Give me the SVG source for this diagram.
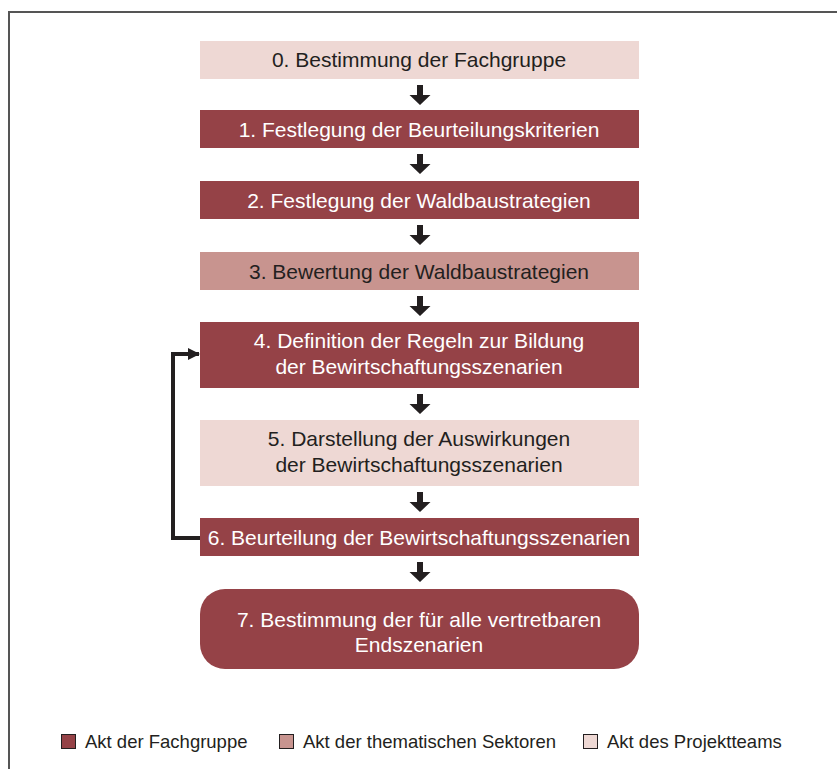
<svg xmlns="http://www.w3.org/2000/svg" width="837" height="769" viewBox="0 0 837 769">
<defs>
<style>
.dark{fill:#954247}
.mid{fill:#c8948f}
.light{fill:#eed8d4}
.t{font-family:"Liberation Sans",Arial,sans-serif;font-size:21px;text-anchor:middle}
.tw{fill:#ffffff}
.tb{fill:#231f20}
.lg{font-family:"Liberation Sans",Arial,sans-serif;font-size:18.5px;fill:#231f20}
.arr{fill:#231f20}
.leg{stroke:#231f20;stroke-width:1}
</style>
<path id="down" d="M-3,0 H3 V10 H10.5 L0,20 L-10.5,10 H-3 Z"/>
<marker id="ah" markerWidth="12" markerHeight="12" refX="11" refY="6" orient="auto" markerUnits="userSpaceOnUse">
<path d="M0,0 L12,6 L0,12 Z" fill="#231f20"/>
</marker>
</defs>
<rect width="837" height="769" fill="#ffffff"/>
<g id="frame" fill="none" stroke="#555555" stroke-width="2">
<path d="M9,769 V12 H837"/>
</g>
<g id="connectors">
<use href="#down" class="arr" x="420" y="85"/>
<use href="#down" class="arr" x="420" y="154"/>
<use href="#down" class="arr" x="420" y="225"/>
<use href="#down" class="arr" x="420" y="296"/>
<use href="#down" class="arr" x="420" y="394"/>
<use href="#down" class="arr" x="420" y="492"/>
<use href="#down" class="arr" x="420" y="562"/>
<path d="M200,538 H173 V354 H199" fill="none" stroke="#231f20" stroke-width="4" marker-end="url(#ah)"/>
</g>
<g id="n0"><rect class="light" x="200" y="41" width="439" height="38"/><text class="t tb" x="419" y="67">0. Bestimmung der Fachgruppe</text></g>
<g id="n1"><rect class="dark" x="200" y="110" width="439" height="38"/><text class="t tw" x="419" y="136.5">1. Festlegung der Beurteilungskriterien</text></g>
<g id="n2"><rect class="dark" x="200" y="181" width="439" height="38"/><text class="t tw" x="419" y="207.5">2. Festlegung der Waldbaustrategien</text></g>
<g id="n3"><rect class="mid" x="200" y="252" width="439" height="38"/><text class="t tb" x="419" y="278.5">3. Bewertung der Waldbaustrategien</text></g>
<g id="n4"><rect class="dark" x="200" y="322" width="439" height="66"/><text class="t tw" x="419" y="348">4. Definition der Regeln zur Bildung</text><text class="t tw" x="419" y="374">der Bewirtschaftungsszenarien</text></g>
<g id="n5"><rect class="light" x="200" y="420" width="439" height="66"/><text class="t tb" x="419" y="446">5. Darstellung der Auswirkungen</text><text class="t tb" x="419" y="472">der Bewirtschaftungsszenarien</text></g>
<g id="n6"><rect class="dark" x="200" y="518" width="439" height="38"/><text class="t tw" x="419" y="544.5">6. Beurteilung der Bewirtschaftungsszenarien</text></g>
<g id="n7"><rect class="dark" x="200" y="589" width="439" height="80" rx="25" ry="25"/><text class="t tw" x="419" y="627">7. Bestimmung der für alle vertretbaren</text><text class="t tw" x="419" y="652">Endszenarien</text></g>
<g id="legend">
<rect class="dark leg" x="61.5" y="734.5" width="14" height="14"/><text class="lg" x="85" y="748">Akt der Fachgruppe</text>
<rect class="mid leg" x="279.5" y="734.5" width="14" height="14"/><text class="lg" x="303" y="748">Akt der thematischen Sektoren</text>
<rect class="light leg" x="583.5" y="734.5" width="14" height="14"/><text class="lg" x="607" y="748">Akt des Projektteams</text>
</g>
</svg>
